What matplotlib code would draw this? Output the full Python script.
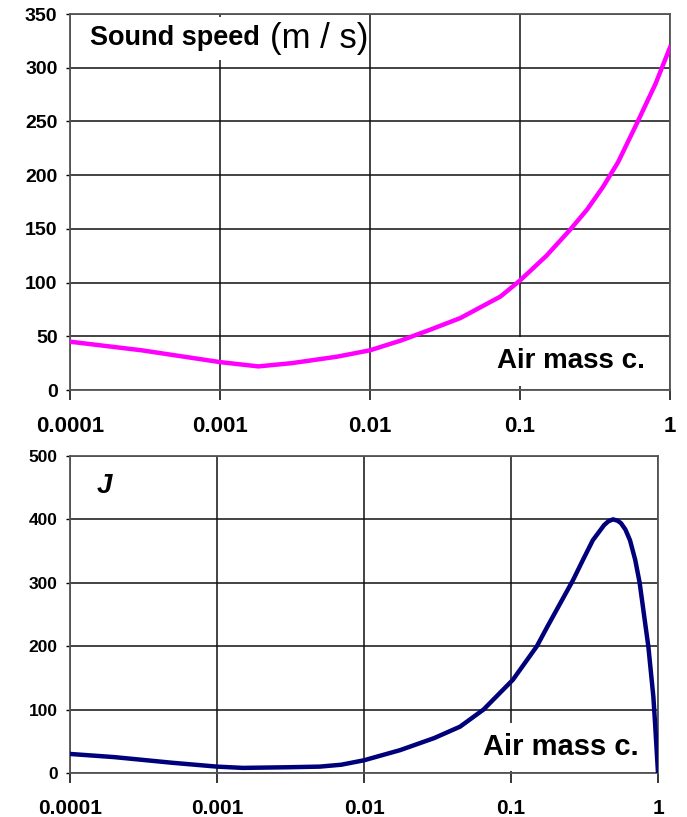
import matplotlib
matplotlib.use("Agg")
import matplotlib.pyplot as plt

# top panel: sound speed vs air mass concentration
air_top = [1e-4, 3e-4, 1e-3, 1.8e-3, 3e-3, 6e-3, 1e-2, 1.6e-2, 2.5e-2, 4e-2,
           7.4e-2, 0.1, 0.15, 0.215, 0.28, 0.357, 0.45, 0.6, 0.8, 1.0]
speed = [45, 37, 26, 22, 25, 31, 37, 46, 56, 67, 87, 102, 125, 149, 168, 189,
         212, 248, 285, 319]

# bottom panel: J vs air mass concentration
air_bot = [1e-4, 2e-4, 5e-4, 1e-3, 1.5e-3, 3e-3, 5e-3, 7e-3, 1e-2, 1.76e-2, 3e-2,
           4.5e-2, 6.5e-2, 0.103, 0.15, 0.176, 0.264, 0.31, 0.36, 0.43, 0.46,
           0.494, 0.53, 0.56, 0.6, 0.645, 0.7, 0.75, 0.86, 0.93, 0.954, 1.0]
jval = [30, 25, 16, 10, 8, 9, 10, 13, 20, 36, 55, 73, 100, 147, 200, 230, 304,
        337, 367, 391, 397, 400, 398, 394, 384, 367, 336, 300, 199, 120, 80, 0]

xticks = [1e-4, 1e-3, 1e-2, 1e-1, 1]
xlabels = ["0.0001", "0.001", "0.01", "0.1", "1"]

plt.rcParams["font.family"] = ["Liberation Sans", "DejaVu Sans"]

fig = plt.figure(figsize=(6.87, 8.17), dpi=100)
ax1 = fig.add_axes([0.1019, 0.5226, 0.8734, 0.4602])
ax2 = fig.add_axes([0.1019, 0.0539, 0.8559, 0.3880])


def style(ax, ymax, ystep, ysize, xsize):
    ax.set_xscale("log")
    ax.set_xlim(1e-4, 1)
    ax.set_ylim(0, ymax)
    ax.set_xticks(xticks)
    ax.set_xticklabels(xlabels)
    ax.minorticks_off()
    ax.set_yticks(range(0, ymax + 1, ystep))
    ax.set_axisbelow(True)
    ax.grid(True, color="#111111", lw=1.1)
    for s in ax.spines.values():
        s.set_color("#555555")
        s.set_linewidth(1.3)
    ax.tick_params(axis="x", length=7, width=1.1, pad=12, labelsize=xsize)
    ax.tick_params(axis="y", length=3, width=1, pad=6, labelsize=ysize)
    for lab in ax.get_xticklabels() + ax.get_yticklabels():
        lab.set_fontweight("bold")


style(ax1, 350, 50, 14, 16)
style(ax2, 500, 100, 12.5, 15)

ax1.plot(air_top, speed, color="#ff00ff", lw=3.2, zorder=3,
         solid_joinstyle="round")
ax2.plot(air_bot, jval, color="#00007a", lw=3.2, zorder=3,
         solid_joinstyle="round")

ax1.text(0.033, 0.935, "Sound speed", transform=ax1.transAxes, fontsize=19.5,
         fontweight="bold", va="center", ha="left", zorder=5,
         bbox=dict(facecolor="white", edgecolor="none", boxstyle="square,pad=0.3"))
ax1.text(0.333, 0.935, "(m / s)", transform=ax1.transAxes, fontsize=25,
         va="center", ha="left", zorder=5)
ax1.text(0.958, 0.076, "Air mass c.", transform=ax1.transAxes, fontsize=20,
         fontweight="bold", va="center", ha="right", zorder=5,
         bbox=dict(facecolor="white", edgecolor="none", boxstyle="square,pad=0.4"))

ax2.text(0.045, 0.905, "J", transform=ax2.transAxes, fontsize=20,
         fontweight="bold", style="italic", va="center", ha="left")
ax2.text(0.968, 0.082, "Air mass c.", transform=ax2.transAxes, fontsize=21,
         fontweight="bold", va="center", ha="right", zorder=5,
         bbox=dict(facecolor="white", edgecolor="none", boxstyle="square,pad=0.35"))

fig.savefig("out.png", dpi=100)
